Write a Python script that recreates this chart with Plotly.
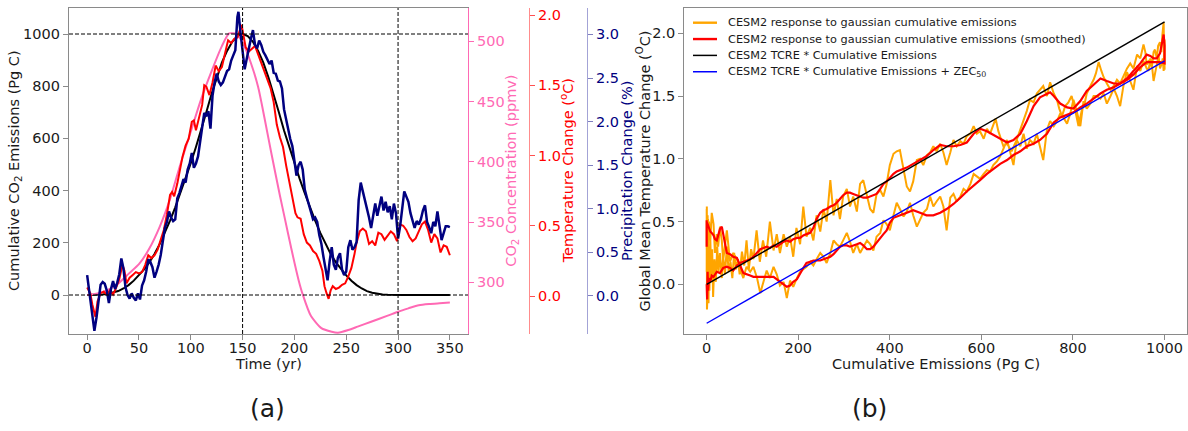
import plotly.graph_objects as go

FONT = "DejaVu Sans"
W, H = 1188, 431

# ---------------- (a) idealised gaussian cumulative-emission run ----------------
cum_years = list(range(0, 351, 5))
cum_emissions = [0, 0, 1, 2, 5, 9, 15, 25, 38, 55, 75, 98, 125, 157, 195, 238, 285, 336, 390, 446,
                 505, 567, 630, 700, 770, 833, 890, 935, 970, 992, 1000,
                 992, 970, 935, 890, 833, 770, 700, 630, 567, 505, 446, 390, 336, 285, 238, 195, 157,
                 125, 98, 75, 55, 38, 25, 15, 9, 5, 2, 1, 0, 0,
                 0, 0, 0, 0, 0, 0, 0, 0, 0, 0]

# (year, ppmv)
co2_ppmv = [(0, 289.5), (10, 290.8), (20, 293.6), (30, 299), (40, 307), (50, 315), (60, 328), (70, 346),
            (80, 369), (90, 398), (100, 425), (110, 452), (120, 475), (130, 496), (137, 506.5), (144, 506),
            (150, 499), (158, 482), (165, 462), (171, 437), (178, 406), (186, 372), (191, 352), (197, 328),
            (204, 302), (208, 290), (216, 272), (226, 262), (236, 259), (242, 258.2), (252, 260.4),
            (261, 263.2), (274, 267.3), (290, 272.3), (300, 275.6), (310, 278.4), (320, 281), (330, 282),
            (340, 282.6), (350, 283.2)]

# (year, degC)
temp_change = [(0, 0.06), (3, 0.02), (5, -0.06), (8, -0.15), (10, -0.04), (13, 0.02), (16, 0.03), (19, 0.01),
               (22, 0.04), (25, 0.01), (28, 0.06), (31, 0.12), (34, 0.22), (36, 0.18), (38, 0.09), (41, 0.13),
               (44, 0.15), (47, 0.17), (50, 0.16), (53, 0.17), (56, 0.22), (59, 0.29), (62, 0.27), (65, 0.29),
               (68, 0.33), (71, 0.40), (74, 0.47), (77, 0.58), (80, 0.72), (82, 0.74), (84, 0.71), (87, 0.80),
               (90, 0.93), (92, 0.99), (95, 1.07), (98, 1.12), (101, 1.24), (103, 1.25), (105, 1.18),
               (108, 1.26), (111, 1.36), (113, 1.50), (115, 1.49), (118, 1.43), (121, 1.52), (124, 1.64),
               (127, 1.60), (130, 1.63), (133, 1.72), (136, 1.82), (139, 1.80), (142, 1.83), (145, 1.84),
               (147, 1.89), (149, 1.93), (151, 1.85), (153, 1.77), (156, 1.74), (159, 1.76), (162, 1.78),
               (165, 1.72), (168, 1.66), (171, 1.60), (174, 1.55), (177, 1.48), (180, 1.38), (183, 1.22),
               (186, 1.13), (189, 1.06), (192, 0.93), (195, 0.82), (198, 0.72), (201, 0.59), (203, 0.56),
               (206, 0.55), (209, 0.44), (212, 0.38), (215, 0.36), (218, 0.32), (221, 0.30), (224, 0.25),
               (227, 0.18), (229, 0.07), (231, 0.02), (233, -0.02), (235, 0.04), (237, 0.07), (240, 0.05),
               (243, 0.06), (246, 0.08), (249, 0.09), (252, 0.14), (255, 0.20), (258, 0.30), (260, 0.38),
               (263, 0.46), (266, 0.48), (269, 0.46), (272, 0.37), (275, 0.39), (278, 0.36), (281, 0.45),
               (284, 0.44), (287, 0.40), (290, 0.43), (293, 0.46), (296, 0.44), (299, 0.39), (302, 0.51),
               (305, 0.50), (308, 0.47), (311, 0.42), (314, 0.39), (317, 0.41), (320, 0.46), (323, 0.51),
               (326, 0.53), (329, 0.47), (332, 0.38), (335, 0.44), (338, 0.41), (341, 0.31), (344, 0.36),
               (347, 0.35), (350, 0.29)]

# (year, %)
precip_change = [(0, 0.24), (2, 0.05), (4, -0.15), (6, -0.33), (7, -0.40), (9, -0.25), (11, -0.05), (13, 0.13),
                 (15, 0.16), (17, 0.14), (19, 0.06), (21, -0.08), (23, 0.08), (25, 0.17), (27, 0.08), (29, 0.15),
                 (31, 0.25), (33, 0.43), (35, 0.32), (37, 0.10), (39, 0.01), (41, -0.03), (43, 0.03), (45, -0.02),
                 (47, -0.05), (49, 0.03), (51, -0.04), (53, 0.12), (55, 0.18), (57, 0.28), (59, 0.42), (61, 0.39),
                 (63, 0.33), (65, 0.21), (67, 0.28), (69, 0.36), (71, 0.47), (73, 0.62), (75, 0.78), (77, 0.85),
                 (79, 0.97), (81, 0.90), (83, 0.86), (85, 0.88), (87, 1.12), (89, 1.18), (91, 1.26), (93, 1.34),
                 (95, 1.30), (97, 1.45), (99, 1.52), (101, 1.64), (103, 1.47), (105, 1.52), (107, 1.60),
                 (109, 1.76), (111, 1.90), (113, 2.10), (115, 2.06), (117, 2.12), (119, 1.92), (121, 2.30),
                 (123, 2.45), (125, 2.55), (127, 2.46), (129, 2.42), (131, 2.45), (133, 2.52), (135, 2.58),
                 (137, 2.60), (139, 2.70), (141, 2.76), (143, 2.82), (145, 3.20), (146, 3.26), (148, 3.02),
                 (150, 2.80), (152, 2.60), (154, 2.72), (156, 2.85), (158, 2.95), (160, 3.05), (162, 2.88),
                 (164, 2.84), (166, 2.93), (168, 2.88), (170, 2.80), (172, 2.76), (174, 2.70), (176, 2.66),
                 (178, 2.70), (180, 2.56), (182, 2.55), (184, 2.47), (186, 2.46), (188, 2.38), (190, 2.14),
                 (192, 2.02), (194, 1.88), (196, 1.80), (198, 1.72), (200, 1.55), (202, 1.38), (204, 1.50),
                 (206, 1.54), (208, 1.45), (210, 1.22), (212, 1.13), (214, 1.05), (216, 0.98), (218, 0.88),
                 (220, 0.90), (222, 0.85), (224, 0.70), (226, 0.60), (228, 0.45), (230, 0.32), (232, 0.18),
                 (234, 0.40), (236, 0.56), (238, 0.36), (240, 0.30), (242, 0.44), (244, 0.49), (246, 0.30),
                 (248, 0.24), (250, 0.28), (252, 0.56), (254, 0.64), (256, 0.53), (258, 0.56), (260, 0.62),
                 (262, 1.10), (264, 1.30), (266, 1.20), (268, 1.10), (270, 1.02), (272, 0.90), (274, 0.78),
                 (276, 0.90), (278, 1.06), (280, 0.92), (282, 1.02), (284, 1.14), (286, 0.98), (288, 1.08),
                 (290, 0.96), (292, 1.03), (294, 0.88), (296, 1.06), (298, 0.95), (300, 0.66), (302, 0.80),
                 (304, 1.00), (306, 1.20), (308, 1.14), (310, 1.08), (312, 0.95), (314, 0.86), (316, 0.78),
                 (318, 0.86), (320, 0.82), (322, 0.88), (324, 0.98), (326, 1.04), (328, 0.85), (330, 0.79),
                 (332, 0.72), (334, 0.85), (336, 0.80), (338, 0.97), (340, 0.80), (342, 0.64), (344, 0.72),
                 (346, 0.80), (348, 0.80), (350, 0.79)]

# ---------------- (b) warming against cumulative emissions ----------------
# (Pg C, degC), annual values while emissions rise
raw_rising = [(0, 0.10), (0.3, 0.62), (0.6, -0.20), (1, 0.45), (1.5, -0.12), (2, 0.30), (2.5, 0.0), (3, 0.52),
              (4, -0.15), (5, 0.20), (6, -0.05), (8, 0.35), (10, 0.05), (12, 0.28), (14, -0.10), (17, 0.20),
              (20, 0.02), (23, 0.30), (26, 0.10), (29, 0.25), (33, 0.05), (36, 0.22), (40, 0.08), (44, 0.30),
              (48, 0.10), (52, 0.18), (56, 0.05), (60, 0.25), (64, 0.12), (68, 0.20), (72, 0.08), (77, 0.26),
              (82, 0.15), (87, 0.35), (92, 0.12), (97, 0.28), (102, 0.20), (109, 0.43), (116, 0.18),
              (123, 0.35), (130, 0.22), (138, 0.50), (146, 0.27), (153, 0.40), (160, 0.25), (168, 0.40),
              (175, 0.30), (182, 0.38), (189, 0.22), (196, 0.45), (204, 0.32), (211, 0.62), (218, 0.38),
              (226, 0.45), (233, 0.35), (240, 0.55), (248, 0.42), (255, 0.60), (262, 0.50), (270, 0.83),
              (277, 0.55), (284, 0.68), (291, 0.52), (298, 0.70), (306, 0.76), (313, 0.62), (320, 0.70),
              (328, 0.58), (335, 0.80), (342, 0.83), (350, 0.70), (357, 0.60), (364, 0.57), (371, 0.72),
              (379, 0.75), (386, 0.70), (393, 0.80), (400, 0.95), (408, 1.04), (415, 1.06), (422, 1.07),
              (430, 0.90), (437, 0.78), (444, 0.74), (451, 0.82), (459, 0.99), (466, 1.00), (473, 0.95),
              (481, 1.03), (488, 1.05), (495, 1.10), (502, 1.06), (510, 1.12), (517, 1.05), (524, 0.95),
              (532, 1.05), (539, 1.15), (546, 1.10), (554, 1.14), (561, 1.12), (568, 1.18), (576, 1.20),
              (583, 1.26), (590, 1.20), (597, 1.22), (605, 1.16), (612, 1.24), (619, 1.20), (626, 1.28),
              (631, 1.32), (637, 1.22), (648, 1.10), (656, 1.12), (666, 1.06), (677, 1.15), (685, 1.23),
              (692, 1.30), (699, 1.38), (706, 1.47), (714, 1.45), (721, 1.52), (728, 1.55), (735, 1.58),
              (743, 1.50), (750, 1.61), (758, 1.52), (765, 1.47), (770, 1.40), (776, 1.34), (783, 1.42),
              (790, 1.45), (797, 1.50), (804, 1.40), (812, 1.26), (820, 1.40), (826, 1.45), (830, 1.52),
              (838, 1.58), (845, 1.63), (850, 1.68), (856, 1.77), (862, 1.70), (867, 1.65), (874, 1.60),
              (882, 1.55), (889, 1.58), (896, 1.63), (903, 1.60), (911, 1.67), (918, 1.72), (925, 1.76),
              (932, 1.72), (940, 1.83), (947, 1.80), (954, 1.91), (958, 1.85), (961, 1.75), (965, 1.78),
              (969, 1.79), (972, 1.72), (976, 1.85), (979, 1.87), (983, 1.80), (986, 1.90), (990, 1.93),
              (993, 1.85), (995, 1.98), (998, 2.09), (999, 1.80), (1000, 1.95), (1000, 1.71)]

# (Pg C, degC), annual values while emissions fall and after
raw_falling = [(999, 1.88), (998, 1.70), (996, 1.80), (994, 1.76), (990, 1.72), (987, 1.82), (983, 1.75),
               (980, 1.68), (976, 1.62), (972, 1.76), (969, 1.80), (965, 1.70), (961, 1.72), (954, 1.78),
               (947, 1.70), (940, 1.74), (932, 1.55), (925, 1.62), (918, 1.69), (911, 1.60), (903, 1.42),
               (896, 1.50), (889, 1.56), (882, 1.50), (874, 1.44), (867, 1.52), (860, 1.48), (852, 1.50),
               (845, 1.50), (838, 1.44), (830, 1.40), (823, 1.46), (816, 1.26), (808, 1.38), (801, 1.47),
               (794, 1.36), (787, 1.28), (779, 1.33), (772, 1.36), (765, 1.30), (758, 1.26), (750, 1.30),
               (743, 1.23), (735, 0.99), (728, 1.10), (721, 1.20), (714, 1.12), (706, 1.15), (699, 1.08),
               (692, 1.20), (685, 1.10), (677, 1.15), (670, 0.95), (663, 1.05), (656, 1.15), (648, 1.08),
               (641, 1.02), (634, 0.98), (626, 0.95), (619, 0.90), (612, 0.91), (605, 0.88), (597, 0.84),
               (590, 0.86), (583, 0.88), (576, 0.80), (568, 0.74), (561, 0.76), (554, 0.70), (546, 0.66),
               (539, 0.72), (532, 0.69), (524, 0.43), (517, 0.62), (510, 0.70), (502, 0.66), (495, 0.62),
               (488, 0.70), (481, 0.60), (473, 0.57), (466, 0.52), (459, 0.46), (451, 0.55), (444, 0.65),
               (437, 0.58), (430, 0.54), (422, 0.60), (415, 0.65), (408, 0.55), (400, 0.43), (393, 0.48),
               (386, 0.51), (379, 0.41), (371, 0.38), (364, 0.27), (357, 0.32), (350, 0.35), (342, 0.30),
               (335, 0.25), (328, 0.32), (320, 0.25), (313, 0.34), (306, 0.41), (298, 0.35), (291, 0.30),
               (284, 0.32), (277, 0.35), (270, 0.25), (262, 0.17), (255, 0.22), (248, 0.25), (240, 0.20),
               (233, 0.15), (226, 0.18), (218, 0.14), (211, 0.12), (204, 0.10), (197, 0.05), (189, -0.02),
               (182, 0.03), (175, -0.11), (168, 0.02), (160, -0.01), (153, 0.08), (146, 0.14), (138, 0.05),
               (131, 0.11), (124, 0.02), (117, -0.07), (110, 0.05), (102, 0.14), (95, 0.10), (87, 0.14),
               (80, 0.05), (73, 0.12), (66, 0.20), (58, 0.25), (51, 0.18), (44, 0.43), (40, 0.30), (36, 0.19),
               (33, 0.35), (29, 0.46), (25, 0.30), (22, 0.40), (18, 0.25), (15, 0.48), (11, 0.57), (8, 0.35),
               (5, 0.50), (3, 0.30), (2, 0.55), (1, 0.40), (0, 0.60), (0, 0.32), (0, 0.50), (0, 0.38),
               (0, 0.55), (0, 0.28), (0, 0.45)]

smooth_rising = [(0, 0.0), (1, -0.12), (2, 0.10), (3, -0.05), (5, 0.05), (8, 0.02), (11, 0.07), (15, 0.06),
                 (22, 0.10), (29, 0.09), (36, 0.13), (44, 0.14), (51, 0.13), (58, 0.11), (66, 0.15), (73, 0.17),
                 (80, 0.18), (87, 0.19), (95, 0.20), (102, 0.22), (110, 0.25), (117, 0.28), (124, 0.29),
                 (131, 0.30), (138, 0.29), (146, 0.31), (153, 0.30), (160, 0.32), (168, 0.34), (175, 0.35),
                 (182, 0.34), (189, 0.36), (197, 0.37), (204, 0.37), (211, 0.39), (218, 0.40), (226, 0.41),
                 (233, 0.45), (240, 0.52), (248, 0.57), (255, 0.59), (262, 0.60), (270, 0.62), (277, 0.63),
                 (284, 0.65), (291, 0.68), (298, 0.71), (306, 0.73), (313, 0.73), (320, 0.72), (328, 0.71),
                 (335, 0.70), (342, 0.69), (350, 0.69), (357, 0.70), (364, 0.71), (371, 0.72), (379, 0.76),
                 (386, 0.80), (393, 0.82), (400, 0.85), (408, 0.88), (415, 0.90), (422, 0.91), (437, 0.93),
                 (451, 0.96), (466, 0.99), (480, 1.02), (495, 1.07), (510, 1.11), (524, 1.10), (539, 1.10),
                 (554, 1.11), (568, 1.13), (583, 1.20), (597, 1.24), (612, 1.22), (626, 1.19), (641, 1.16),
                 (656, 1.13), (670, 1.15), (685, 1.20), (699, 1.30), (714, 1.42), (728, 1.49), (743, 1.52),
                 (750, 1.53), (758, 1.50), (772, 1.44), (787, 1.41), (801, 1.40), (816, 1.46), (830, 1.54),
                 (845, 1.59), (860, 1.64), (874, 1.62), (889, 1.60), (903, 1.60), (918, 1.64), (932, 1.70),
                 (947, 1.76), (961, 1.83), (969, 1.82), (976, 1.80), (983, 1.80), (990, 1.84), (995, 1.92),
                 (998, 1.99), (1000, 1.90)]

smooth_falling = [(1000, 1.76), (990, 1.77), (976, 1.77), (961, 1.77), (947, 1.73), (932, 1.67), (918, 1.63),
                  (903, 1.60), (889, 1.57), (874, 1.55), (860, 1.52), (845, 1.48), (830, 1.44), (816, 1.41),
                  (801, 1.37), (787, 1.35), (772, 1.33), (758, 1.29), (743, 1.20), (728, 1.15), (714, 1.12),
                  (699, 1.10), (685, 1.06), (670, 1.03), (656, 0.99), (641, 0.96), (626, 0.92), (612, 0.88),
                  (597, 0.83), (583, 0.79), (568, 0.74), (554, 0.69), (539, 0.64), (524, 0.60), (510, 0.57),
                  (495, 0.55), (480, 0.55), (466, 0.57), (451, 0.59), (437, 0.57), (422, 0.55), (408, 0.53),
                  (400, 0.49), (393, 0.43), (386, 0.40), (379, 0.37), (371, 0.33), (364, 0.30), (357, 0.28),
                  (350, 0.28), (342, 0.31), (335, 0.33), (328, 0.32), (320, 0.31), (313, 0.30), (306, 0.31),
                  (298, 0.31), (291, 0.30), (284, 0.27), (277, 0.24), (270, 0.22), (262, 0.21), (255, 0.20),
                  (248, 0.19), (240, 0.19), (233, 0.19), (226, 0.18), (218, 0.17), (211, 0.13), (204, 0.08),
                  (197, 0.04), (189, 0.02), (182, -0.01), (175, -0.02), (168, 0.00), (160, 0.02), (153, 0.04),
                  (146, 0.06), (138, 0.06), (131, 0.06), (124, 0.06), (117, 0.06), (110, 0.06), (102, 0.06),
                  (95, 0.07), (87, 0.08), (80, 0.09), (73, 0.15), (66, 0.21), (58, 0.22), (51, 0.24), (44, 0.25),
                  (40, 0.33), (36, 0.42), (33, 0.46), (29, 0.44), (25, 0.38), (22, 0.35), (18, 0.36), (15, 0.39),
                  (11, 0.41), (8, 0.42), (5, 0.45), (3, 0.48), (1, 0.49), (0, 0.45), (0, 0.38), (0, 0.46),
                  (0, 0.51), (0, 0.42), (0, 0.35), (0, 0.40), (0, 0.30)]

tcre_emissions = [0, 1000]
tcre_temp = [0.0, 2.09]
tcre_zec_temp = [-0.31, 1.78]

PINK = "#ff69b4"
NAVY = "#000080"
ORANGE = "#ffa500"
SPINE = "#8a8a8a"
TEXT = "#1a1a1a"


def split(pairs):
    return [p[0] for p in pairs], [p[1] for p in pairs]


def fx(px):
    return px / W


def fy(py):
    return 1 - py / H


fig = go.Figure()

# ---- panel (a) ----
fig.add_trace(go.Scatter(x=cum_years, y=cum_emissions, mode="lines", line=dict(color="black", width=2),
                         xaxis="x", yaxis="y", name="Cumulative emissions"))
t, v = split(co2_ppmv)
fig.add_trace(go.Scatter(x=t, y=v, mode="lines", line=dict(color=PINK, width=2, shape="spline", smoothing=0.6),
                         xaxis="x", yaxis="y2", name="CO2"))
t, v = split(temp_change)
fig.add_trace(go.Scatter(x=t, y=v, mode="lines", line=dict(color="red", width=2),
                         xaxis="x", yaxis="y3", name="Temperature"))
t, v = split(precip_change)
fig.add_trace(go.Scatter(x=t, y=v, mode="lines", line=dict(color=NAVY, width=2.5),
                         xaxis="x", yaxis="y4", name="Precipitation"))

# ---- panel (b) ----
legend_rows = [
    ("CESM2 response to gaussian cumulative emissions", ORANGE, 2.4),
    ("CESM2 response to gaussian cumulative emissions (smoothed)", "red", 2.4),
    ("CESM2 TCRE * Cumulative Emissions", "black", 1.5),
    ("CESM2 TCRE * Cumulative Emissions + ZEC<sub>50</sub>", "blue", 1.5),
]

e, v = split(raw_rising + raw_falling)
fig.add_trace(go.Scatter(x=e, y=v, mode="lines", line=dict(color=ORANGE, width=2),
                         xaxis="x2", yaxis="y5", name=legend_rows[0][0]))
e, v = split(smooth_rising + smooth_falling)
fig.add_trace(go.Scatter(x=e, y=v, mode="lines", line=dict(color="red", width=2.2),
                         xaxis="x2", yaxis="y5", name=legend_rows[1][0]))
fig.add_trace(go.Scatter(x=tcre_emissions, y=tcre_temp, mode="lines", line=dict(color="black", width=1.4),
                         xaxis="x2", yaxis="y5", name=legend_rows[2][0]))
fig.add_trace(go.Scatter(x=tcre_emissions, y=tcre_zec_temp, mode="lines", line=dict(color="blue", width=1.4),
                         xaxis="x2", yaxis="y5", name=legend_rows[3][0]))

tick_font = dict(family=FONT, size=14.5, color=TEXT)
base = dict(showgrid=False, zeroline=False, ticks="outside", ticklen=5, tickwidth=1, showline=True,
            linewidth=1.2)

fig.update_layout(
    width=W, height=H,
    margin=dict(l=0, r=0, t=0, b=0),
    paper_bgcolor="white", plot_bgcolor="white",
    font=dict(family=FONT, color=TEXT),
    showlegend=False,
    xaxis=dict(base, domain=[fx(69), fx(468)], range=[-17.5, 367.5], anchor="y",
               tickvals=list(range(0, 351, 50)), linecolor=SPINE, tickcolor=SPINE, mirror=True,
               tickfont=tick_font, ticklabelstandoff=-5),
    yaxis=dict(base, domain=[fy(334), fy(8)], range=[-149.4, 1099.6], anchor="x",
               tickvals=list(range(0, 1001, 200)), linecolor=SPINE, tickcolor=SPINE, tickfont=tick_font),
    yaxis2=dict(base, overlaying="y", anchor="x", side="right", range=[257.1, 527.6],
                tickvals=[300, 350, 400, 450, 500], linecolor=PINK, tickcolor=PINK,
                tickfont=dict(family=FONT, size=14.5, color=PINK)),
    yaxis3=dict(base, overlaying="y", anchor="free", position=fx(529), side="right",
                range=[-0.2705, 2.0498], tickvals=[0, 0.5, 1, 1.5, 2], tickformat=".1f",
                linecolor="#ff8c8c", tickcolor="#ff5050", tickfont=dict(family=FONT, size=14.5, color="red")),
    yaxis4=dict(base, overlaying="y", anchor="free", position=fx(587), side="right",
                range=[-0.436, 3.303], tickvals=[0, 0.5, 1, 1.5, 2, 2.5, 3], tickformat=".1f",
                linecolor="#a3a3d6", tickcolor="#7f7fbf", tickfont=dict(family=FONT, size=14.5, color=NAVY)),
    xaxis2=dict(base, domain=[fx(684.3), fx(1187)], range=[-48.9, 1049], anchor="y5",
                tickvals=list(range(0, 1001, 200)), linecolor=SPINE, tickcolor=SPINE, mirror=True,
                tickfont=tick_font, ticklabelstandoff=-5),
    yaxis5=dict(base, domain=[fy(334.3), fy(8.3)], range=[-0.398, 2.199], anchor="x2",
                tickvals=[0, 0.5, 1, 1.5, 2], tickformat=".1f", linecolor=SPINE, tickcolor=SPINE,
                mirror=True, tickfont=tick_font),
)

# reference lines in panel (a)
dash = dict(color="black", width=1, dash="4px,2px")
for yv in (0, 1000):
    fig.add_shape(type="line", xref="x domain", yref="y", x0=0, x1=1, y0=yv, y1=yv, line=dash)
for xv in (150, 300):
    fig.add_shape(type="line", xref="x", yref="y domain", x0=xv, x1=xv, y0=0, y1=1, line=dash)

# key for panel (b), upper-left inside the axes
for i, (label, color, width) in enumerate(legend_rows):
    yk = fy(22.7 + 16.35 * i)
    fig.add_shape(type="line", xref="paper", yref="paper", x0=fx(693), x1=fx(717), y0=yk, y1=yk,
                  line=dict(color=color, width=width))
    fig.add_annotation(x=fx(726), y=yk, xref="paper", yref="paper", text=label, showarrow=False,
                       xanchor="left", yanchor="middle", font=dict(family=FONT, size=11.3, color=TEXT))

mid_y = fy(171)
labels = [
    (fx(15), mid_y, "Cumulative CO<sub>2</sub> Emissions (Pg C)", TEXT, -90),
    (fx(511.7), mid_y, "CO<sub>2</sub> Concentration (ppmv)", PINK, -90),
    (fx(567.3), mid_y, "Temperature Change (<sup>o</sup>C)", "red", -90),
    (fx(627), mid_y, "Precipitation Change (%)", NAVY, -90),
    (fx(643.5), mid_y, "Global Mean Temperature Change (<sup>O</sup>C)", TEXT, -90),
    (fx(268.5), fy(364), "Time (yr)", TEXT, 0),
    (fx(935.5), fy(364), "Cumulative Emissions (Pg C)", TEXT, 0),
]
for x, y, text, color, angle in labels:
    fig.add_annotation(x=x, y=y, xref="paper", yref="paper", text=text, showarrow=False,
                       textangle=angle, xanchor="center", yanchor="middle",
                       font=dict(family=FONT, size=14.5, color=color))

for x, text in ((fx(267), "(a)"), (fx(869), "(b)")):
    fig.add_annotation(x=x, y=fy(408), xref="paper", yref="paper", text=text, showarrow=False,
                       xanchor="center", yanchor="middle", font=dict(family=FONT, size=25, color=TEXT))

fig.write_html("out.html")
